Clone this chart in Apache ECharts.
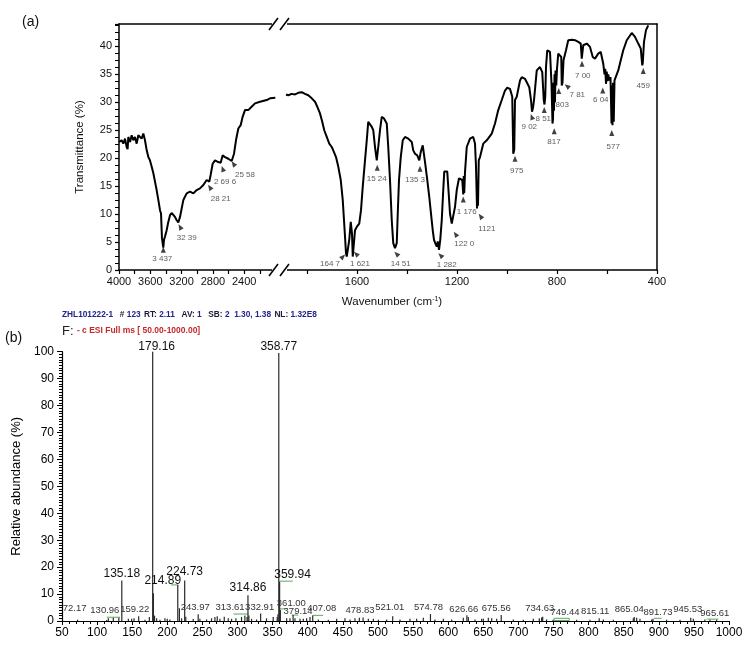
<!DOCTYPE html>
<html><head><meta charset="utf-8">
<script src="https://cdn.jsdelivr.net/npm/echarts@6/dist/echarts.min.js"></script>
<style>html,body{margin:0;padding:0;background:#fff}#c{width:750px;height:645px}</style>
</head><body><div id="c"></div>
<script>
// ---------- (a) IR spectrum data ----------
const irLeft = [[4000,22.9],[3966,23.2],[3945,22.6],[3923,23.5],[3902,22.0],[3890,21.6],[3881,23.8],[3859,22.9],[3838,24.1],[3817,23.2],[3796,23.8],[3774,22.6],[3753,24.1],[3732,24.4],[3711,23.5],[3689,24.4],[3668,23.2],[3646,21.4],[3625,20.2],[3604,19.6],[3583,18.5],[3561,17.3],[3540,15.8],[3519,14.3],[3497,12.5],[3476,10.7],[3463,10.1],[3451,5.7],[3434,4.0],[3425,5.4],[3412,6.0],[3391,7.1],[3370,8.6],[3348,9.8],[3327,10.2],[3306,10.1],[3285,9.5],[3263,8.9],[3242,8.5],[3220,9.5],[3199,11.0],[3178,12.5],[3157,13.1],[3135,13.7],[3093,14.0],[3050,13.7],[3007,14.3],[2965,14.6],[2922,15.2],[2880,16.1],[2846,15.8],[2829,17.0],[2803,19.0],[2773,19.6],[2731,19.3],[2701,19.2],[2675,20.5],[2645,20.2],[2603,19.9],[2560,19.5],[2530,20.8],[2505,23.2],[2475,25.3],[2445,25.9],[2420,27.4],[2390,28.6],[2348,28.6],[2305,29.2],[2262,29.8],[2198,30.1],[2113,30.4],[2070,30.7],[2002,30.8]];
const irRight = [[1884,31.4],[1875,31.25],[1861,31.5],[1848,31.4],[1835,31.7],[1821,31.8],[1808,31.5],[1795,31.25],[1781,30.7],[1768,30.1],[1759,29.2],[1748,28.0],[1739,26.5],[1731,25.0],[1721,23.8],[1711,22.6],[1701,22.0],[1695,21.4],[1684,20.2],[1675,18.5],[1665,16.1],[1657,12.5],[1652,8.9],[1648,6.0],[1644,3.0],[1641,2.4],[1635,2.4],[1631,5.4],[1625,8.6],[1620,6.5],[1617,2.4],[1612,2.4],[1608,7.1],[1601,7.7],[1591,8.3],[1584,10.7],[1577,14.9],[1568,19.6],[1561,23.2],[1555,26.5],[1548,26.2],[1541,25.6],[1535,25.0],[1528,22.0],[1521,19.6],[1515,22.0],[1508,25.0],[1501,27.4],[1492,27.1],[1481,26.2],[1475,22.0],[1468,16.1],[1461,8.9],[1455,4.8],[1448,3.9],[1441,4.8],[1437,10.1],[1432,16.1],[1425,20.2],[1417,23.2],[1408,23.8],[1395,23.5],[1381,22.9],[1375,21.4],[1368,20.8],[1359,20.5],[1351,19.6],[1345,21.1],[1337,22.3],[1332,22.0],[1327,19.0],[1319,16.1],[1311,13.1],[1304,10.1],[1297,7.1],[1292,5.4],[1287,4.8],[1281,4.2],[1277,5.1],[1272,3.6],[1267,5.4],[1261,8.9],[1255,14.3],[1251,17.6],[1245,17.9],[1239,17.6],[1235,14.9],[1228,10.1],[1221,8.3],[1215,8.6],[1208,11.3],[1201,14.3],[1192,16.4],[1184,16.7],[1179,16.1],[1177,16.1],[1175,13.5],[1173,16.8],[1171,13.8],[1168,17.5],[1161,22.0],[1148,23.5],[1135,23.8],[1128,22.6],[1124,18.5],[1120,11.0],[1118,16.0],[1116,11.5],[1113,19.6],[1108,20.2],[1095,22.6],[1081,23.2],[1061,24.4],[1048,26.2],[1035,28.6],[1021,30.4],[1008,32.1],[999,32.6],[988,32.4],[979,31.0],[975,20.8],[971,21.5],[968,30.4],[961,31.0],[948,33.9],[941,34.5],[928,34.2],[921,33.9],[911,32.7],[904,30.4],[900,28.3],[896,29.0],[892,30.4],[881,35.7],[868,36.3],[859,35.4],[853,30.4],[850,29.6],[847,31.0],[844,36.3],[839,39.3],[828,39.0],[822,33.3],[818,26.2],[816,27.0],[814,33.5],[812,28.5],[810,35.0],[808,30.0],[806,35.7],[803,33.0],[800,36.0],[795,38.7],[788,39.0],[783,38.1],[781,33.0],[778,33.5],[774,37.5],[764,39.3],[755,41.1],[741,41.2],[728,41.1],[715,40.8],[705,40.5],[701,37.8],[699,38.0],[695,40.2],[681,40.5],[668,39.9],[657,38.1],[648,37.8],[635,38.7],[625,39.0],[615,36.9],[610,35.0],[607,36.0],[604,33.3],[601,35.5],[598,33.8],[595,35.0],[591,33.9],[586,34.5],[582,26.2],[580,33.0],[578,25.9],[576,33.5],[573,26.5],[570,33.9],[555,35.7],[545,37.5],[535,39.3],[521,41.1],[501,42.4],[488,41.7],[475,40.5],[465,39.6],[459,36.6],[457,37.0],[452,40.8],[444,42.9],[435,43.75]];

// peak annotations: [text, labelWn, labelT, arrowWn, arrowT, arrowRotate]
const irMarksLeft = [
  ['3 437',3447,2.0,3434,3.6,0],
  ['32 39',3135,5.7,3220,7.7,30],
  ['28 21',2700,12.8,2840,14.8,35],
  ['2 69 6',2645,15.8,2675,18.1,20],
  ['25 58',2390,17.1,2538,19.0,35]
];
const irMarksRight = [
  ['164 7',1708,1.1,1656,2.4,-45],
  ['1 621',1588,1.1,1604,2.9,45],
  ['15 24',1521,16.3,1519,18.3,0],
  ['14 51',1425,1.1,1442,2.9,45],
  ['135 3',1368,16.2,1348,18.1,0],
  ['1 282',1241,0.85,1266,2.6,45],
  ['122 0',1171,4.6,1206,6.4,35],
  ['1 176',1161,10.4,1175,12.6,0],
  ['1121',1081,7.4,1106,9.6,35],
  ['975',961,17.7,968,19.9,0],
  ['9 02',911,25.6,901,27.4,20],
  ['8 51',855,27.1,851,28.6,0],
  ['817',812,22.9,811,24.8,0],
  ['803',779,29.6,793,32.0,0],
  ['7 81',719,31.4,760,32.9,50],
  ['7 00',697,34.8,700,36.9,0],
  ['6 04',625,30.5,617,32.1,0],
  ['577',575,22.0,581,24.5,0],
  ['459',455,33.0,455,35.6,0]
];

// ---------- (b) mass spectrum data ----------
const msLabeledMz  = [72.17,130.96,135.18,159.22,179.16,214.89,224.73,243.97,313.61,314.86,332.91,358.77,359.94,361.00,379.14,407.08,478.83,521.01,574.78,626.66,675.56,734.63,749.44,815.11,865.04,891.73,945.53,965.61];
const msLabeledInt = [0.5,1.2,15.0,1.8,100,13.4,15.0,2.5,1.5,9.6,2.8,99.5,14.6,4.1,2.2,2.0,1.3,1.8,2.6,2.1,2.2,1.6,0.5,1.0,1.5,0.8,1.2,0.6];
const msMinor = [[180.2,10.3],[217.2,4.7],[226.3,1.6],[113.6,0.4],[116.0,1.0],[123.1,1.2],[144.5,0.8],[149.2,0.8],[152.6,1.0],[168.2,0.5],[174.4,1.5],[181.8,2.0],[184.8,1.0],[189.5,0.5],[196.6,1.0],[199.9,0.8],[203.7,0.6],[220.3,1.0],[236.9,0.7],[246.4,0.8],[255.9,0.6],[263.0,1.0],[267.8,1.5],[271.1,1.8],[274.9,0.8],[281.1,1.6],[286.8,1.0],[291.5,0.8],[297.7,1.0],[305.7,1.5],[310.5,2.0],[316.2,2.0],[320.0,0.8],[327.1,0.6],[341.3,1.0],[350.8,1.5],[356.5,1.5],[357.6,2.5],[370.0,1.0],[374.7,1.0],[381.8,1.0],[389.0,0.8],[393.7,0.8],[398.4,1.0],[403.2,1.5],[415.1,0.6],[429.3,0.5],[441.2,0.8],[453.0,1.0],[460.2,0.6],[467.3,1.0],[473.5,1.2],[486.3,0.8],[493.4,0.8],[500.5,0.5],[512.4,0.6],[531.4,0.6],[545.6,0.8],[555.1,0.8],[564.6,1.2],[581.2,0.6],[593.1,0.8],[605.0,0.6],[621.6,1.2],[628.7,1.5],[638.2,0.6],[647.7,0.8],[650.1,0.8],[657.2,1.2],[662.0,1.0],[669.1,0.8],[692.8,0.6],[707.0,0.5],[721.3,0.8],[729.8,1.0],[733.1,1.3],[740.2,0.6],[783.0,0.5],[802.0,0.5],[821.0,0.6],[835.2,0.5],[863.7,1.0],[868.5,1.2],[873.2,0.8],[889.8,0.6],[911.2,0.5],[930.2,0.5],[949.2,0.8],[972.9,0.5],[982.4,0.5]];
// green threshold segments: [fromMz, toMz, level]
const msGreen = [[113.7,132.6,1.4],[205.3,215.7,13.4],[294,315.3,2.6],[359.5,378.6,14.8],[360.5,370,4.5],[377,386.5,2.2],[407,422,2.1],[893,904,1.0],[968,985,0.7]];
const msGreenBox = [750.8,772.5,0.2,1.0];

// ---------- layout / style (kept apart from data) ----------
const FONT = '"Liberation Sans", Arial, sans-serif';
const bigLabels = [135.18,179.16,214.89,224.73,314.86,358.77,359.94];
const msLabelOffsets = {
  72.17:[-3,-5],130.96:[-14,-1],135.18:[0,0],159.22:[-4,-1],179.16:[4,2],214.89:[-15,3],224.73:[0,-2],
  243.97:[-3,-1],313.61:[-17,-4],314.86:[0,0],332.91:[-1,0],358.77:[0,1],359.94:[13,0],361.00:[11,-1],
  379.14:[5,2],407.08:[9,-1],478.83:[-3,-1],521.01:[-3,-3],574.78:[-2,-1],626.66:[-3,0],675.56:[-5,-1],
  734.63:[-3,-2],749.44:[12,-1],815.11:[-4,-1],865.04:[-5,-2],891.73:[5,0],945.53:[-3,-2],965.61:[10,0]
};

const msBarData = msLabeledMz.map((mz,i)=>{
  const big = bigLabels.indexOf(mz) >= 0;
  const off = msLabelOffsets[mz] || [0,0];
  return {value:[mz, msLabeledInt[i]], label:{show:true, position:'top', distance:1,
    formatter: mz.toFixed(2), offset: off, fontSize: big ? 12 : 9.5, color: big ? '#111' : '#333', fontFamily: FONT}};
}).concat(msMinor.map(p=>({value:p})));

const greenLines = msGreen.map(g=>({coords:[[g[0],g[2]],[g[1],g[2]]]}))
  .concat([{coords:[[msGreenBox[0],msGreenBox[2]],[msGreenBox[0],msGreenBox[3]],[msGreenBox[1],msGreenBox[3]],[msGreenBox[1],msGreenBox[2]],[msGreenBox[0],msGreenBox[2]]]}]);

function arrowData(marks){ return marks.map(m=>({value:[m[3],m[4]], symbolRotate:m[5]})); }
function labelData(marks){ return marks.map(m=>({name:m[0], value:[m[1],m[2]]})); }

const axisLineBlack = {show:true, lineStyle:{color:'#000', width:1.5}};
const noTick = {show:false};
const chart = echarts.init(document.getElementById('c'));

const irXCommon = {type:'value', inverse:true, interval:200, splitLine:{show:false},
  axisLine: axisLineBlack, axisTick:{show:true, length:4, lineStyle:{color:'#000',width:1.2}},
  axisLabel:{fontSize:11, color:'#111', fontFamily:FONT, margin:6}};

const option = {
  animation:false,
  backgroundColor:'#fff',
  textStyle:{fontFamily:FONT},
  grid:[
    {left:119, top:24, width:156.5, height:246},
    {left:285, top:24, width:372, height:246},
    {left:62, top:351.7, width:667, height:269.3}
  ],
  xAxis:[
    Object.assign({}, irXCommon, {gridIndex:0, min:2000, max:4000,
      axisLabel: Object.assign({}, irXCommon.axisLabel, {formatter:v=> (v%400===0 && v>2000) ? String(v) : ''})}),
    Object.assign({}, irXCommon, {gridIndex:1, min:400, max:1888,
      axisTick:{show:true, length:4, lineStyle:{color:'#000',width:1.2}, customValues:[400,600,800,1000,1200,1400,1600,1800]},
      axisLabel: Object.assign({}, irXCommon.axisLabel, {customValues:[400,800,1200,1600], formatter:v=>String(v)})}),
    {type:'value', gridIndex:0, position:'top', min:2000, max:4000, inverse:true, axisLine:axisLineBlack, axisTick:noTick, axisLabel:{show:false}, splitLine:{show:false}},
    {type:'value', gridIndex:1, position:'top', min:400, max:1888, inverse:true, axisLine:axisLineBlack, axisTick:noTick, axisLabel:{show:false}, splitLine:{show:false}},
    {type:'value', gridIndex:2, min:50, max:1000, interval:50, splitLine:{show:false},
      axisLine:{show:true, lineStyle:{color:'#000', width:1.2}},
      axisTick:{show:true, length:4, lineStyle:{color:'#000'}},
      minorTick:{show:true, splitNumber:5, length:3, lineStyle:{color:'#000'}},
      axisLabel:{fontSize:12, color:'#000', fontFamily:FONT, margin:6, formatter:v=>String(v)}}
  ],
  yAxis:[
    {type:'value', gridIndex:0, min:0, max:44, interval:5, splitLine:{show:false},
      axisLine:axisLineBlack, axisTick:{show:true, length:4, lineStyle:{color:'#000',width:1.2}},
      minorTick:{show:true, splitNumber:4, length:4, lineStyle:{color:'#000',width:1}},
      axisLabel:{fontSize:11, color:'#111', fontFamily:FONT, margin:7, formatter:v=> v%5===0 ? String(v) : ''},
      name:'Transmittance (%)', nameLocation:'middle', nameGap:33, nameRotate:90,
      nameTextStyle:{fontSize:11.5, color:'#111', fontFamily:FONT}},
    {type:'value', gridIndex:1, min:0, max:44, position:'right', axisLine:axisLineBlack, axisTick:noTick, axisLabel:{show:false}, splitLine:{show:false}},
    {type:'value', gridIndex:2, min:0, max:100, interval:10, splitLine:{show:false},
      axisLine:{show:true, lineStyle:{color:'#000', width:1.2}},
      axisTick:{show:true, length:5, lineStyle:{color:'#000'}},
      minorTick:{show:true, splitNumber:10, length:3, lineStyle:{color:'#000'}},
      axisLabel:{fontSize:12, color:'#000', fontFamily:FONT, margin:8, formatter:v=>String(v)},
      name:'Relative abundance (%)', nameLocation:'middle', nameGap:31, nameRotate:90,
      nameTextStyle:{fontSize:13, color:'#000', fontFamily:FONT}}
  ],
  series:[
    {type:'line', xAxisIndex:0, yAxisIndex:0, data:irLeft, showSymbol:false, symbol:'none',
      lineStyle:{color:'#000', width:2}, clip:true},
    {type:'line', xAxisIndex:1, yAxisIndex:1, data:irRight, showSymbol:false, symbol:'none',
      lineStyle:{color:'#000', width:2}, clip:true},
    {type:'scatter', xAxisIndex:0, yAxisIndex:0, data:arrowData(irMarksLeft), symbol:'triangle', symbolSize:[5,6], itemStyle:{color:'#111'}},
    {type:'scatter', xAxisIndex:1, yAxisIndex:1, data:arrowData(irMarksRight), symbol:'triangle', symbolSize:[5,6], itemStyle:{color:'#111'}},
    {type:'scatter', xAxisIndex:0, yAxisIndex:0, data:labelData(irMarksLeft), symbolSize:1, itemStyle:{color:'rgba(0,0,0,0)'},
      label:{show:true, position:'inside', formatter:'{b}', fontSize:8, color:'#333', fontFamily:FONT}},
    {type:'scatter', xAxisIndex:1, yAxisIndex:1, data:labelData(irMarksRight), symbolSize:1, itemStyle:{color:'rgba(0,0,0,0)'},
      label:{show:true, position:'inside', formatter:'{b}', fontSize:8, color:'#333', fontFamily:FONT}},
    {type:'bar', xAxisIndex:4, yAxisIndex:2, data:msBarData, barWidth:1.2, barGap:'-100%',
      itemStyle:{color:'#2a2a2a'}, label:{show:false}},
    {type:'lines', coordinateSystem:'cartesian2d', xAxisIndex:4, yAxisIndex:2, polyline:true, data:greenLines,
      lineStyle:{color:'#5aaa5a', width:1, opacity:1}, symbol:'none'}
  ],
  graphic:[
    {type:'text', left:22, top:15, style:{text:'(a)', fontSize:14, fill:'#111', fontFamily:FONT}},
    {type:'text', left:5, top:331, style:{text:'(b)', fontSize:14, fill:'#111', fontFamily:FONT}},
    {type:'text', x:392, y:302, style:{text:'{a|Wavenumber (cm}{s|-1}{a|)}', align:'center', verticalAlign:'middle',
      rich:{a:{fontSize:11.5, fill:'#111', fontFamily:FONT}, s:{fontSize:7, fill:'#111', fontFamily:FONT, padding:[0,0,6,0]}}}},
    {type:'rect', shape:{x:272, y:266, width:15, height:8}, style:{fill:'#fff'}, z:50},
    {type:'rect', shape:{x:272, y:20, width:15, height:8}, style:{fill:'#fff'}, z:50},
    {type:'line', shape:{x1:269, y1:276, x2:278, y2:264}, style:{stroke:'#000', lineWidth:1.5}, z:51},
    {type:'line', shape:{x1:280, y1:276, x2:289, y2:264}, style:{stroke:'#000', lineWidth:1.5}, z:51},
    {type:'line', shape:{x1:269, y1:30, x2:278, y2:18}, style:{stroke:'#000', lineWidth:1.5}, z:51},
    {type:'line', shape:{x1:280, y1:30, x2:289, y2:18}, style:{stroke:'#000', lineWidth:1.5}, z:51},
    {type:'text', x:62, y:315, style:{verticalAlign:'middle',
      text:'{v|ZHL101222-1}  {k|#}{v| 123} {k|RT:}{v| 2.11}  {k|AV:}{v| 1}  {k|SB:}{v| 2  1.30, 1.38} {k|NL:}{v| 1.32E8}',
      rich:{v:{fontSize:8.3, fontWeight:'bold', fill:'#23238c', fontFamily:FONT}, k:{fontSize:8.3, fontWeight:'bold', fill:'#1a1a3a', fontFamily:FONT}}}},
    {type:'text', x:62, y:331, style:{verticalAlign:'middle',
      text:'{f|F:} {r|- c ESI Full ms [ 50.00-1000.00]}',
      rich:{f:{fontSize:13, fill:'#222', fontFamily:FONT}, r:{fontSize:8.5, fontWeight:'bold', fill:'#c62828', fontFamily:FONT}}}}
  ]
};
chart.setOption(option);
</script>
</body></html>
